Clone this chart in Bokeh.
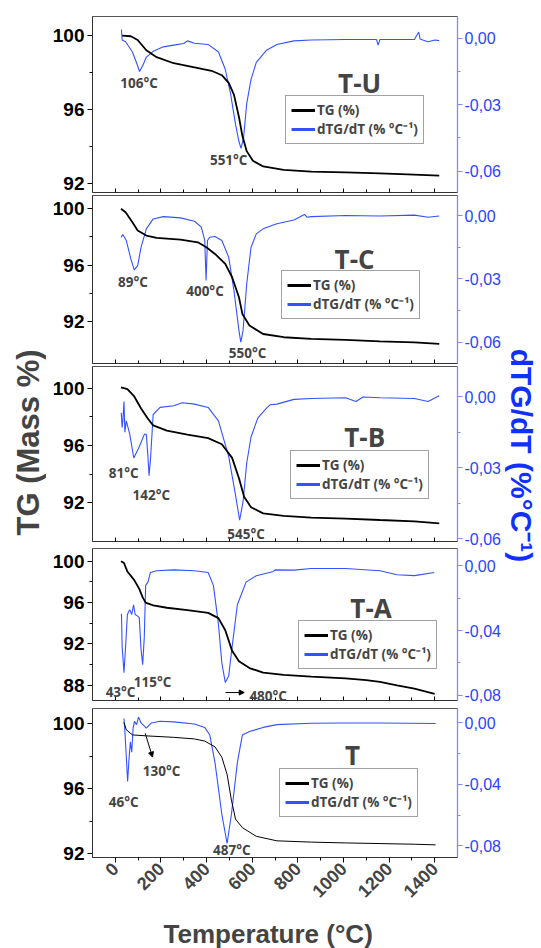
import math
from bokeh.plotting import figure
from bokeh.models import (Range1d, LinearAxis, FixedTicker, CustomJSTickFormatter,
                          Legend, LegendItem, Label, Arrow, NormalHead)
from bokeh.layouts import row, column
from bokeh.embed import file_html
from bokeh.resources import INLINE

# ---------------- data ----------------
X_TICKS = [0, 200, 400, 600, 800, 1000, 1200, 1400]
X_MINOR = [100, 300, 500, 700, 900, 1100, 1300]

# T-U
TU_TG_T = [30, 68, 98, 136, 181, 256, 347, 422, 467, 497, 520, 542, 557, 576, 603, 648, 738, 859, 1009, 1160, 1281, 1420]
TU_TG = [100.0, 99.96, 99.76, 99.2, 98.83, 98.5, 98.28, 98.09, 97.85, 97.44, 96.8, 95.59, 94.57, 93.74, 93.22, 92.91, 92.72, 92.63, 92.59, 92.54, 92.48, 92.41]
TU_DTG_T = [27, 30, 45, 75, 98, 106, 120, 136, 166, 211, 256, 300, 316, 347, 407, 452, 482, 505, 527, 542,
            551, 562, 576, 595, 618, 663, 708, 783, 859, 1009, 1145, 1152, 1160, 1311, 1330, 1336, 1348, 1371, 1401, 1420]
TU_DTG = [0.0039, -0.0008, -0.0016, -0.0062, -0.0124, -0.0150, -0.0124, -0.0085, -0.0059, -0.0039,
          -0.0031, -0.0024, -0.0012, -0.0023, -0.0028, -0.0062, -0.0140, -0.0249, -0.0389, -0.0466,
          -0.0497, -0.0451, -0.0295, -0.0186, -0.0109, -0.0054, -0.0028, -0.0012, -0.0008, -0.0006,
          -0.0006, -0.0031, -0.0006, -0.0006, 0.0028, -0.0003, -0.0008, -0.0016, -0.0008, -0.0011]

# T-C
TC_TG_T = [25, 45, 75, 98, 136, 181, 286, 362, 399, 437, 482, 512, 542, 557, 588, 648, 738, 859, 1009, 1160, 1311, 1420]
TC_TG = [100.0, 99.76, 99.05, 98.46, 98.1, 97.93, 97.81, 97.62, 97.27, 96.79, 96.08, 95.13, 93.71, 92.52, 91.69, 91.09, 90.86, 90.74, 90.67, 90.57, 90.5, 90.38]
TC_DTG_T = [25, 33, 48, 68, 83, 98, 113, 136, 166, 211, 286, 347, 377, 392, 398, 404, 414, 437, 467, 497,
            520, 542, 550, 560, 576, 595, 618, 648, 708, 783, 829, 840, 859, 1009, 1160, 1311, 1371, 1420]
TC_DTG = [-0.0103, -0.0090, -0.0118, -0.0205, -0.0257, -0.0237, -0.0150, -0.0063, -0.0016, -0.0005,
          -0.0011, -0.0027, -0.0055, -0.0118, -0.0308, -0.0118, -0.0103, -0.0099, -0.0118, -0.0197,
          -0.0355, -0.0545, -0.0600, -0.0545, -0.0324, -0.0150, -0.0087, -0.0063, -0.0039, -0.0021,
          0.0005, -0.0008, -0.0005, 0.0, -0.0002, 0.0002, -0.0008, -0.0002]

# T-B
TB_TG_T = [25, 53, 83, 113, 143, 166, 226, 316, 407, 467, 512, 542, 565, 595, 648, 738, 859, 1009, 1160, 1311, 1420]
TB_TG = [100.05, 99.93, 99.41, 98.57, 97.86, 97.39, 97.03, 96.75, 96.51, 96.08, 95.13, 93.71, 92.4, 91.69, 91.26, 91.09, 90.97, 90.9, 90.8, 90.71, 90.57]
TB_DTG_T = [26, 30, 33, 38, 42, 48, 63, 81, 105, 128, 136, 143, 148, 154, 166, 196, 256, 294, 347, 407,
            452, 497, 527, 545, 560, 576, 595, 625, 663, 678, 708, 783, 859, 1009, 1055, 1085, 1160, 1311, 1371, 1420]
TB_DTG = [-0.0068, -0.0130, -0.0102, -0.0020, -0.0150, -0.0102, -0.0157, -0.0259, -0.0211, -0.0157,
          -0.0160, -0.0252, -0.0334, -0.0266, -0.0075, -0.0045, -0.0038, -0.0025, -0.0031, -0.0045,
          -0.0102, -0.0252, -0.0416, -0.0522, -0.0443, -0.0280, -0.0170, -0.0089, -0.0048, -0.0034,
          -0.0031, -0.0011, -0.0007, -0.0004, -0.0020, -0.0001, -0.0004, -0.0007, -0.0020, 0.0004]

# T-A
TA_TG_T = [25, 38, 53, 83, 105, 120, 133, 166, 226, 316, 407, 452, 482, 512, 542, 588, 648, 738, 859, 1009, 1100, 1160, 1235, 1311, 1400]
TA_TG = [100.0, 99.83, 99.0, 98.17, 97.33, 96.5, 96.0, 95.73, 95.5, 95.27, 95.0, 94.5, 93.33, 91.33, 90.33, 89.67, 89.23, 89.0, 88.83, 88.67, 88.5, 88.33, 88.0, 87.67, 87.17]
TA_DTG_T = [27, 30, 38, 45, 53, 63, 72, 80, 87, 98, 105, 113, 120, 127, 133, 143, 154, 181, 256, 347,
            407, 430, 452, 467, 482, 497, 512, 535, 573, 618, 693, 700, 783, 859, 1009, 1160, 1235, 1311, 1398]
TA_DTG = [-0.0296, -0.0500, -0.0660, -0.0500, -0.0300, -0.0270, -0.0300, -0.0240, -0.0300, -0.0310,
          -0.0320, -0.0520, -0.0610, -0.0440, -0.0120, -0.0100, -0.0040, -0.0030, -0.0024, -0.0030,
          -0.0040, -0.0120, -0.0360, -0.0600, -0.0720, -0.0680, -0.0500, -0.0240, -0.0100, -0.0060,
          -0.0034, -0.0024, -0.0026, -0.0016, -0.0016, -0.0030, -0.0054, -0.0060, -0.0040]

# T
T_TG_T = [38, 48, 75, 136, 256, 347, 392, 437, 467, 490, 509, 527, 557, 618, 708, 859, 1009, 1160, 1311, 1404]
T_TG = [100.1, 99.64, 99.32, 99.26, 99.17, 99.07, 98.94, 98.58, 97.94, 96.88, 95.29, 94.12, 93.59, 93.06, 92.78, 92.7, 92.65, 92.61, 92.57, 92.53]
T_DTG_T = [38, 42, 48, 54, 60, 66, 72, 78, 84, 93, 102, 113, 136, 158, 196, 256, 347, 392, 414, 437,
           467, 490, 509, 535, 557, 588, 648, 708, 859, 1009, 1160, 1404]
T_DTG = [0.0029, -0.0056, -0.0213, -0.0381, -0.0235, -0.0123, -0.0190, -0.0034, 0.0010, -0.0011,
         0.0038, 0.0, -0.0034, 0.0, 0.0011, 0.0007, -0.0007, -0.0029, -0.0078, -0.0258,
         -0.0594, -0.0784, -0.0594, -0.0258, -0.0078, -0.0056, -0.0029, -0.0011, -0.0002, 0.0, 0.0, -0.0004]

BLUE = "#3352ff"
BLUE_AXIS = "#7d8cff"
BLUE_TXT = "#2a44ff"
ANN_FONT = "Open Sans"
AX_FONT = "Liberation Sans"
NAN = float("nan")

panels = [
    dict(name="T-U", h=194, top=16, bottom=2, yr=(91.5, 101.03), dr=(-0.0696, 0.0098),
         yt=[92, 96, 100], ym=[94, 98], dt=[-0.06, -0.03, 0.0], dm=[-0.045, -0.015],
         tgT=TU_TG_T, tg=TU_TG, dT=TU_DTG_T, d=TU_DTG, title=(1071, 97.44), leg=(193, 48), tgw=1.8,
         ann=[("106°C", 104, 97.44), ("551°C", 497, 93.28)], arrows=[]),
    dict(name="T-C", h=170, top=1, bottom=1, yr=(88.99, 100.95), dr=(-0.0701, 0.0095),
         yt=[92, 96, 100], ym=[94, 98], dt=[-0.06, -0.03, 0.0], dm=[-0.045, -0.015],
         tgT=TC_TG_T, tg=TC_TG, dT=TC_DTG_T, d=TC_DTG, title=(1049, 96.45), leg=(189, 44), tgw=1.8,
         ann=[("89°C", 77, 94.82), ("400°C", 393, 94.18), ("550°C", 580, 89.75)], arrows=[]),
    dict(name="T-B", h=183, top=2, bottom=6, yr=(89.3, 101.5), dr=(-0.0612, 0.0128),
         yt=[92, 96, 100], ym=[94, 98], dt=[-0.06, -0.03, 0.0], dm=[-0.045, -0.015],
         tgT=TB_TG_T, tg=TB_TG, dT=TB_DTG_T, d=TB_DTG, title=(1093, 96.57), leg=(198, 42), tgw=1.8,
         ann=[("81°C", 37, 94.07), ("142°C", 158, 92.57), ("545°C", 573, 89.8)], arrows=[]),
    dict(name="T-A", h=159, top=1, bottom=6, yr=(86.53, 101.23), dr=(-0.0832, 0.0108),
         yt=[88, 92, 96, 100], ym=[90, 94, 98], dt=[-0.08, -0.04, 0.0], dm=[-0.06, -0.02],
         tgT=TA_TG_T, tg=TA_TG, dT=TA_DTG_T, d=TA_DTG, title=(1121, 95.5), leg=(206, 31), tgw=1.8,
         ann=[("43°C", 23, 87.4), ("115°C", 163, 88.3), ("480°C", 670, 87.0)],
         arrows=[(483, 87.3, 565, 87.3)]),
    dict(name="T", h=207, top=2, bottom=56, yr=(91.75, 100.95), dr=(-0.0875, 0.0094),
         yt=[92, 96, 100], ym=[94, 98], dt=[-0.08, -0.04, 0.0], dm=[-0.06, -0.02],
         tgT=T_TG_T, tg=T_TG, dT=T_DTG_T, d=T_DTG, title=(1040, 98.08), leg=(187, 40), tgw=1.0,
         ann=[("46°C", 37, 95.19), ("130°C", 203, 97.12), ("487°C", 511, 92.22)],
         arrows=[(131, 99.42, 163, 97.95)]),
]

comma_fmt = CustomJSTickFormatter(code="""
var s = tick.toFixed(2).replace('.', ',');
if (s == '-0,00') { s = '0,00'; }
return s;
""")

figs = []
for i, c in enumerate(panels):
    last = (i == len(panels) - 1)
    p = figure(width=457, height=c["h"], x_range=Range1d(-100, 1500), y_range=Range1d(*c["yr"]),
               output_backend="svg", toolbar_location=None,
               min_border_left=46, min_border_right=46,
               min_border_top=c["top"], min_border_bottom=c["bottom"])
    p.extra_y_ranges = {"d": Range1d(*c["dr"])}
    p.grid.visible = False
    p.outline_line_color = "#555555"
    p.outline_line_width = 1

    # left axis
    ya = p.yaxis[0]
    ya.ticker = FixedTicker(ticks=c["yt"], minor_ticks=c["ym"])
    ya.major_label_text_font = AX_FONT
    ya.major_label_text_font_style = "bold"
    ya.major_label_text_font_size = "19px"
    ya.major_label_text_color = "black"
    ya.major_tick_out = 5
    ya.major_tick_in = 0
    ya.minor_tick_out = 3
    ya.minor_tick_in = 0
    ya.major_label_standoff = 3
    ya.axis_line_color = "#333333"

    # right axis
    ra = LinearAxis(y_range_name="d", ticker=FixedTicker(ticks=c["dt"], minor_ticks=c["dm"]),
                    formatter=comma_fmt)
    ra.axis_line_color = BLUE_AXIS
    ra.axis_line_width = 1.3
    ra.major_tick_line_color = BLUE_AXIS
    ra.minor_tick_line_color = BLUE_AXIS
    ra.major_tick_out = 5
    ra.major_tick_in = 0
    ra.minor_tick_out = 3
    ra.minor_tick_in = 0
    ra.major_label_text_color = BLUE_TXT
    ra.major_label_text_font = AX_FONT
    ra.major_label_text_font_size = "16px"
    ra.major_label_standoff = 2
    p.add_layout(ra, "right")

    # x axis
    xa = p.xaxis[0]
    xa.ticker = FixedTicker(ticks=X_TICKS, minor_ticks=X_MINOR)
    xa.axis_line_color = "#333333"
    if last:
        xa.major_tick_out = 5
        xa.major_tick_in = 0
        xa.minor_tick_out = 3
        xa.minor_tick_in = 0
        xa.major_label_orientation = math.pi / 4
        xa.major_label_text_font = AX_FONT
        xa.major_label_text_font_style = "bold"
        xa.major_label_text_font_size = "18px"
        xa.major_label_standoff = 3
    else:
        xa.major_tick_out = 0
        xa.major_tick_in = 4
        xa.minor_tick_out = 0
        xa.minor_tick_in = 3
        xa.formatter = CustomJSTickFormatter(code="return '';")
        xa.major_label_standoff = 0

    # curves
    p.line(c["dT"], c["d"], y_range_name="d", line_color=BLUE, line_width=1.1)
    p.line(c["tgT"], c["tg"], line_color="black", line_width=c["tgw"])

    # legend (thick sample lines, no visible data)
    r1 = p.line(x=[NAN], y=[NAN], line_color="black", line_width=3)
    r2 = p.line(x=[NAN], y=[NAN], line_color=BLUE, line_width=3, y_range_name="d")
    leg = Legend(items=[LegendItem(label="TG (%)", renderers=[r1]),
                        LegendItem(label="dTG/dT (% °C\u207b\u00b9)", renderers=[r2])],
                 location=c["leg"], orientation="vertical",
                 border_line_color="#444444", border_line_width=1,
                 background_fill_alpha=1.0,
                 label_text_font=ANN_FONT, label_text_font_style="bold",
                 label_text_font_size="13.5px", glyph_width=24, glyph_height=14,
                 label_height=18, label_standoff=2, padding=5, spacing=1, margin=0)
    p.add_layout(leg)

    # panel title and peak annotations
    p.add_layout(Label(x=c["title"][0], y=c["title"][1], text=c["name"],
                       text_align="center", text_baseline="middle",
                       text_font=ANN_FONT, text_font_style="bold", text_font_size="26px"))
    for txt, tx, ty in c["ann"]:
        p.add_layout(Label(x=tx, y=ty, text=txt, text_align="center", text_baseline="middle",
                           text_font=ANN_FONT, text_font_style="bold", text_font_size="13.5px"))
    for (x0, y0, x1, y1) in c["arrows"]:
        p.add_layout(Arrow(x_start=x0, y_start=y0, x_end=x1, y_end=y1, line_width=1,
                           end=NormalHead(size=5, fill_color="black", line_color="black")))
    figs.append(p)

# x-axis title strip under the last panel (same x range, so the title centres on the frame)
bottom = figure(width=457, height=35, x_range=Range1d(-100, 1500), y_range=Range1d(0, 1),
                output_backend="svg", toolbar_location=None,
                min_border_left=46, min_border_right=46, min_border_top=0, min_border_bottom=0)
bottom.axis.visible = False
bottom.grid.visible = False
bottom.outline_line_color = None
bottom.add_layout(Label(x=670, y=15 / 35, text="Temperature (°C)", text_align="center",
                        text_baseline="middle", text_font=AX_FONT, text_font_style="bold",
                        text_font_size="26px"))

# side label figures
left = figure(width=46, height=948, x_range=Range1d(0, 1), y_range=Range1d(0, 1),
              output_backend="svg", toolbar_location=None, min_border=0)
left.axis.visible = False
left.grid.visible = False
left.outline_line_color = None
left.add_layout(Label(x=27.5 / 46, y=1 - 442 / 948, text="TG (Mass %)", angle=math.pi / 2,
                      text_align="center", text_baseline="middle", text_font=AX_FONT,
                      text_font_style="bold", text_font_size="31px"))

right = figure(width=38, height=948, x_range=Range1d(0, 1), y_range=Range1d(0, 1),
               output_backend="svg", toolbar_location=None, min_border=0)
right.axis.visible = False
right.grid.visible = False
right.outline_line_color = None
right.add_layout(Label(x=18 / 38, y=1 - 455 / 948, text="dTG/dT (%°C\u207b\u00b9)", angle=-math.pi / 2,
                       text_align="center", text_baseline="middle", text_font=AX_FONT,
                       text_font_style="bold", text_font_size="30px", text_color="#1030ff"))

layout = row(left, column(*figs, bottom), right)
open("out.html", "w").write(file_html(layout, INLINE))
